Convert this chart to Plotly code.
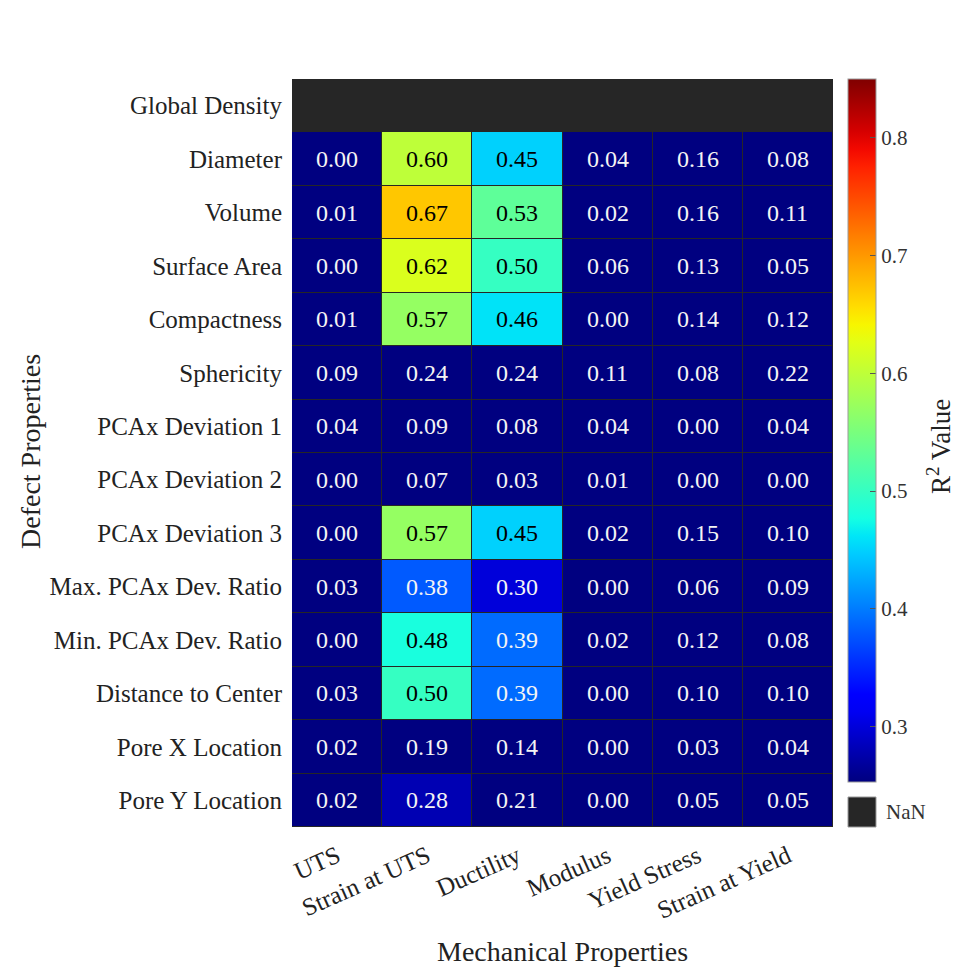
import numpy as np
import plotly.graph_objects as go

x_labels = ["UTS", "Strain at UTS", "Ductility", "Modulus", "Yield Stress", "Strain at Yield"]
y_labels = ["Global Density", "Diameter", "Volume", "Surface Area", "Compactness", "Sphericity",
            "PCAx Deviation 1", "PCAx Deviation 2", "PCAx Deviation 3", "Max. PCAx Dev. Ratio",
            "Min. PCAx Dev. Ratio", "Distance to Center", "Pore X Location", "Pore Y Location"]

global_density = [None, None, None, None, None, None]
diameter = [0.00, 0.60, 0.45, 0.04, 0.16, 0.08]
volume = [0.01, 0.67, 0.53, 0.02, 0.16, 0.11]
surface_area = [0.00, 0.62, 0.50, 0.06, 0.13, 0.05]
compactness = [0.01, 0.57, 0.46, 0.00, 0.14, 0.12]
sphericity = [0.09, 0.24, 0.24, 0.11, 0.08, 0.22]
pcax_dev1 = [0.04, 0.09, 0.08, 0.04, 0.00, 0.04]
pcax_dev2 = [0.00, 0.07, 0.03, 0.01, 0.00, 0.00]
pcax_dev3 = [0.00, 0.57, 0.45, 0.02, 0.15, 0.10]
max_ratio = [0.03, 0.38, 0.30, 0.00, 0.06, 0.09]
min_ratio = [0.00, 0.48, 0.39, 0.02, 0.12, 0.08]
dist_center = [0.03, 0.50, 0.39, 0.00, 0.10, 0.10]
pore_x = [0.02, 0.19, 0.14, 0.00, 0.03, 0.04]
pore_y = [0.02, 0.28, 0.21, 0.00, 0.05, 0.05]

z = [global_density, diameter, volume, surface_area, compactness, sphericity, pcax_dev1,
     pcax_dev2, pcax_dev3, max_ratio, min_ratio, dist_center, pore_x, pore_y]

ZMIN, ZMAX = 0.253, 0.85

# matplotlib "jet" colormap
_jet = {
    "r": [(0, 0), (0.35, 0), (0.66, 1), (0.89, 1), (1, 0.5)],
    "g": [(0, 0), (0.125, 0), (0.375, 1), (0.64, 1), (0.91, 0), (1, 0)],
    "b": [(0, 0.5), (0.11, 1), (0.34, 1), (0.65, 0), (1, 0)],
}
def _ch(pts, t):
    xs = [p[0] for p in pts]; ys = [p[1] for p in pts]
    return float(np.interp(t, xs, ys))
colorscale = []
for t in np.linspace(0, 1, 41):
    r, g, b = (_ch(_jet[c], t) for c in "rgb")
    colorscale.append([float(t), f"rgb({int(round(r*255))},{int(round(g*255))},{int(round(b*255))})"])

FONT = "Liberation Serif, Times New Roman, serif"
NAN_COLOR = "#262626"

fig = go.Figure()
fig.add_trace(go.Heatmap(
    z=z, x=x_labels, y=y_labels,
    colorscale=colorscale, zmin=ZMIN, zmax=ZMAX,
    xgap=1, ygap=1, hoverongaps=False,
    colorbar=dict(
        thickness=28, len=703/748, lenmode="fraction",
        y=1, yanchor="top", x=(848-292)/541, xanchor="left", xpad=0, ypad=0,
        outlinewidth=1, outlinecolor="#999",
        ticks="inside", ticklen=6, tickcolor="#555",
        tickvals=[0.3, 0.4, 0.5, 0.6, 0.7, 0.8], ticktext=["0.3", "0.4", "0.5", "0.6", "0.7", "0.8"],
        tickfont=dict(family=FONT, size=21, color="#333"),
    ),
))

annotations = []
for i, row in enumerate(z):
    for j, v in enumerate(row):
        if v is None:
            continue
        annotations.append(dict(
            x=x_labels[j], y=y_labels[i], text=f"{v:.2f}", showarrow=False,
            font=dict(family=FONT, size=24, color="black" if v >= 0.42 else "#f4f4f4"),
        ))

annotations.append(dict(xref="paper", yref="paper", x=(884-292)/541, y=(827-812)/748,
                        xanchor="left", yanchor="middle", text="NaN", showarrow=False,
                        font=dict(family=FONT, size=21, color="#333")))
annotations.append(dict(xref="paper", yref="paper", x=(939-292)/541, y=(827-447)/748,
                        xanchor="center", yanchor="middle", text="R<sup>2</sup> Value",
                        textangle=-90, showarrow=False,
                        font=dict(family=FONT, size=27, color="#222")))
# axis titles
annotations.append(dict(xref="paper", yref="paper", x=0.5, y=(827-952)/748,
                        xanchor="center", yanchor="middle", text="Mechanical Properties",
                        showarrow=False, font=dict(family=FONT, size=28, color="#222")))
annotations.append(dict(xref="paper", yref="paper", x=(30-292)/541, y=(827-452)/748,
                        xanchor="center", yanchor="middle", text="Defect Properties",
                        textangle=-90, showarrow=False, font=dict(family=FONT, size=28, color="#222")))

fig.add_shape(type="rect", xref="paper", yref="paper",
              x0=(848-292)/541, x1=(876-292)/541, y0=0, y1=(827-797)/748,
              fillcolor=NAN_COLOR, line=dict(color="#999", width=1))

fig.update_layout(
    width=956, height=968,
    margin=dict(l=292, r=123, t=79, b=141, autoexpand=False),
    paper_bgcolor="white", plot_bgcolor=NAN_COLOR,
    font=dict(family=FONT, color="#222"),
    annotations=annotations,
    xaxis=dict(
        automargin=False,
        tickangle=-24, tickfont=dict(family=FONT, size=25, color="#222"),
        ticks="outside", ticklen=4, tickcolor="rgba(0,0,0,0)",
        showgrid=False, zeroline=False,
    ),
    yaxis=dict(
        automargin=False,
        autorange="reversed", tickfont=dict(family=FONT, size=25, color="#222"),
        ticks="outside", ticklen=4, tickcolor="rgba(0,0,0,0)",
        showgrid=False, zeroline=False,
    ),
)

fig.write_html("out.html")
